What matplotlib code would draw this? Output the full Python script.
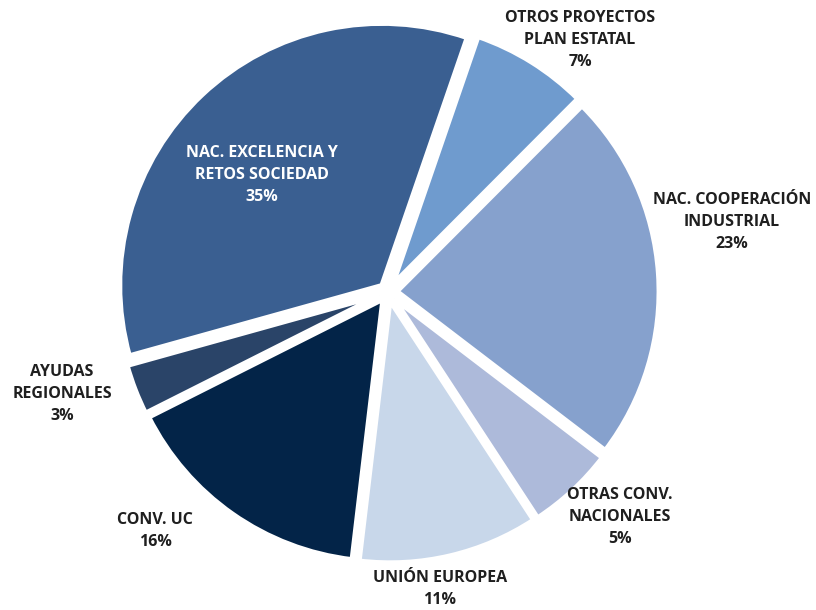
import matplotlib.pyplot as plt

categories = [
    "OTROS PROYECTOS\nPLAN ESTATAL",
    "NAC. COOPERACIÓN\nINDUSTRIAL",
    "OTRAS CONV.\nNACIONALES",
    "UNIÓN EUROPEA",
    "CONV. UC",
    "AYUDAS\nREGIONALES",
    "NAC. EXCELENCIA Y\nRETOS SOCIEDAD",
]
shares = [7.2, 22.9, 5.4, 11.1, 15.7, 3.1, 34.6]

colors = ["#6F9BCE", "#86A1CD", "#ADBADA", "#C8D7EA", "#032448", "#2A4468", "#3A5F91"]
text_colors = ["#1F1F1F"] * 6 + ["white"]

# label centres in pixel coords (x, y from top)
label_pos = [(580, 40), (732, 222), (620, 517), (440, 589), (155, 531), (62, 394), (262, 175)]

W, H = 816, 610
fig = plt.figure(figsize=(W / 100, H / 100), dpi=100)
ax = fig.add_axes([0, 0, 1, 1])

# explode is in data units here (1 unit = 1 px)
ax.pie(
    shares,
    colors=colors,
    startangle=71,
    counterclock=False,
    center=(388, H - 292),
    radius=262,
    explode=[9] * len(shares),
    wedgeprops=dict(edgecolor="white", linewidth=3.5),
)

for name, v, (x, y), tc in zip(categories, shares, label_pos, text_colors):
    ax.text(
        x, H - y, f"{name}\n{v:.0f}%",
        ha="center", va="center", color=tc,
        fontsize=11.5, fontweight="bold", family="Open Sans", linespacing=1.5,
    )

ax.set_xlim(0, W)
ax.set_ylim(0, H)
ax.set_aspect("equal")
ax.axis("off")

plt.savefig("out.png", dpi=100)
